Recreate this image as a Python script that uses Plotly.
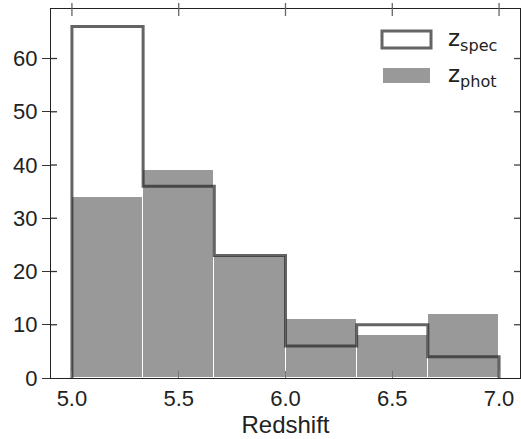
import plotly.graph_objects as go

bin_edges = [5.0, 5.0 + 1/3, 5.0 + 2/3, 6.0, 6.0 + 1/3, 6.0 + 2/3, 7.0]
zphot_counts = [34, 39, 23, 11, 8, 12]
zspec_counts = [66, 36, 23, 6, 10, 4]
x_ticks = [5.0, 5.5, 6.0, 6.5, 7.0]
x_tick_labels = ["5.0", "5.5", "6.0", "6.5", "7.0"]
y_ticks = [0, 10, 20, 30, 40, 50, 60]
y_tick_labels = ["0", "10", "20", "30", "40", "50", "60"]

centers = [(bin_edges[i] + bin_edges[i + 1]) / 2 for i in range(len(zphot_counts))]
width = bin_edges[1] - bin_edges[0]

step_x = [bin_edges[0]] + bin_edges[:-1] + [bin_edges[-1], bin_edges[-1]]
step_y = [0] + zspec_counts + [zspec_counts[-1], 0]

fig = go.Figure()
fig.add_trace(go.Bar(x=centers, y=zphot_counts, width=[width] * len(centers),
                     marker=dict(color="#999999", line=dict(color="white", width=1)),
                     name="z<sub>phot</sub>", showlegend=False))
fig.add_trace(go.Scatter(x=step_x, y=step_y, mode="lines", line_shape="hv",
                         line=dict(color="rgba(40,40,40,0.72)", width=3),
                         name="z<sub>spec</sub>", showlegend=False))

font_ticks = dict(family="Liberation Sans, Arial", size=22, color="#222")
xr = [4.902, 7.098]
yr = [0, 69.3]
PW, PH = 469, 369  # plot area size in px

fig.update_layout(
    width=521, height=439,
    margin=dict(l=51, r=1, t=9, b=61, autoexpand=False),
    plot_bgcolor="white", paper_bgcolor="white",
    bargap=0,
    xaxis=dict(range=xr, tickvals=x_ticks, ticktext=x_tick_labels, ticks="inside",
               ticklen=7, tickcolor="#777", tickwidth=1.3, showline=True, linecolor="#222",
               linewidth=1.3, mirror=True, showgrid=False, zeroline=False,
               tickfont=font_ticks, automargin=False,
               title=dict(text="Redshift", font=dict(family="Liberation Sans, Arial", size=24, color="#222"),
                          standoff=4)),
    yaxis=dict(range=yr, tickvals=y_ticks, ticktext=y_tick_labels, ticks="outside",
               ticklen=8, tickcolor="#333", tickwidth=1.3, showline=True, linecolor="#222",
               linewidth=1.3, mirror=True, showgrid=False, zeroline=False,
               tickfont=font_ticks, automargin=False),
)

# tick marks crossing the top spine
for xv in x_ticks:
    fig.add_shape(type="line", xref="x", yref="paper", x0=xv, x1=xv,
                  y0=1 - 7 / PH, y1=1 + 6 / PH, line=dict(color="#666", width=1.3), layer="above")
# inside tick marks on left and right spines
for yv in y_ticks[1:]:
    fig.add_shape(type="line", xref="paper", yref="y", x0=0, x1=6 / PW, y0=yv, y1=yv,
                  line=dict(color="#333", width=1.3), layer="above")
    fig.add_shape(type="line", xref="paper", yref="y", x0=1 - 6 / PW, x1=1, y0=yv, y1=yv,
                  line=dict(color="#444", width=1.3), layer="above")

# manual legend
fig.add_shape(type="rect", xref="paper", yref="paper",
              x0=(382 - 51) / PW, x1=(431 - 51) / PW, y0=(378 - 48) / PH, y1=(378 - 31) / PH,
              line=dict(color="rgba(40,40,40,0.72)", width=3), fillcolor="white")
fig.add_shape(type="rect", xref="paper", yref="paper",
              x0=(383 - 51) / PW, x1=(430 - 51) / PW, y0=(378 - 83) / PH, y1=(378 - 68) / PH,
              line=dict(width=0), fillcolor="#999999")
legend_font = dict(family="DejaVu Sans", size=23, color="#222")
fig.add_annotation(xref="paper", yref="paper", x=(446 - 51) / PW, y=(378 - 40) / PH,
                   xanchor="left", yanchor="middle", text="z<sub>spec</sub>", showarrow=False,
                   font=legend_font)
fig.add_annotation(xref="paper", yref="paper", x=(446 - 51) / PW, y=(378 - 76) / PH,
                   xanchor="left", yanchor="middle", text="z<sub>phot</sub>", showarrow=False,
                   font=legend_font)

fig.write_html("out.html", config={"displayModeBar": False},
               post_script="document.body.style.margin='0';document.body.style.overflow='hidden';")
